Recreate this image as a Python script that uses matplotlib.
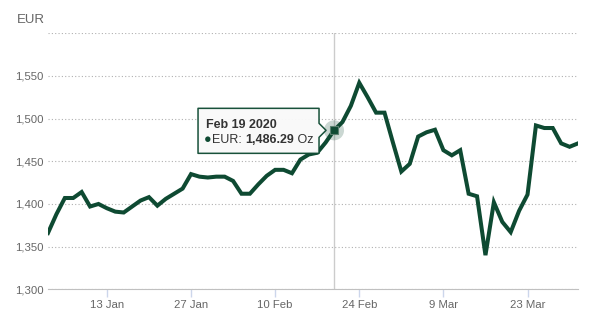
import matplotlib
matplotlib.use('Agg')
import matplotlib.pyplot as plt
import pandas as pd
from matplotlib.patches import Polygon, Circle
from matplotlib.transforms import IdentityTransform

plt.rcParams['font.family'] = ['Liberation Sans', 'DejaVu Sans']

# trading days, Jan 2 - Mar 31 2020 (ordinal axis, weekends skipped)
dates = pd.bdate_range('2020-01-02', '2020-03-31')
eur = [1366, 1388, 1407, 1407, 1414, 1397, 1400, 1395, 1391, 1390,
       1397, 1404, 1408, 1398, 1406, 1412, 1418, 1435, 1432, 1431,
       1432, 1432, 1427, 1412, 1412, 1423, 1433, 1440, 1440, 1436,
       1452, 1458, 1460, 1472, 1486.29, 1496, 1515, 1542, 1525, 1507,
       1507, 1472, 1438, 1447, 1479, 1484, 1487, 1463, 1457, 1463,
       1412, 1409, 1340, 1402, 1379, 1367, 1392, 1411, 1492, 1489,
       1489, 1471, 1467, 1471]
tick_dates = ['2020-01-13', '2020-01-27', '2020-02-10', '2020-02-24', '2020-03-09', '2020-03-23']
y_ticks = [1300, 1350, 1400, 1450, 1500, 1550, 1600]
hover_date = '2020-02-19'

green = '#0e4a32'
grey = '#666666'

fig = plt.figure(figsize=(5.95, 3.16), dpi=100)
ax = fig.add_axes([48 / 595, 1 - 289.3 / 316, 530 / 595, 256 / 316])

x = list(range(len(dates)))
ax.plot(x, eur, color=green, lw=2.9, solid_joinstyle='miter', zorder=3)

ax.set_xlim(0, len(dates) - 1)
ax.set_ylim(y_ticks[0], y_ticks[-1])

ax.set_yticks(y_ticks)
ax.set_yticklabels([f'{v:,}' for v in y_ticks[:-1]] + [''])
ax.yaxis.grid(True, linestyle=(0, (1, 2)), color='#b0b0b0', lw=0.8)
ax.set_axisbelow(True)

xt = [dates.get_loc(pd.Timestamp(d)) for d in tick_dates]
ax.set_xticks(xt)
ax.set_xticklabels([f"{pd.Timestamp(d).day} {pd.Timestamp(d).strftime('%b')}" for d in tick_dates])

for s in ['top', 'right', 'left']:
    ax.spines[s].set_visible(False)
ax.spines['bottom'].set_color('#c0c0c0')
ax.tick_params(axis='y', length=0, pad=3, labelsize=8.2, labelcolor=grey)
ax.tick_params(axis='x', length=6, width=1, color='#ccd6eb', pad=2, labelsize=8.2, labelcolor=grey)

fig.text(44.5 / 595, 1 - 20 / 316, 'EUR', ha='right', va='center', fontsize=9.5, color=grey)

# hover state
hi = dates.get_loc(pd.Timestamp(hover_date))
ax.axvline(hi, color='#cccccc', lw=1, zorder=2)

px, py = ax.transData.transform((hi, eur[hi]))
ident = IdentityTransform()
fig.patches.append(Circle((px, py), 10, transform=ident, facecolor=green, alpha=0.22, edgecolor='none'))
ax.plot([hi], [eur[hi]], marker='s', ms=5.5, color=green, mec='#6f8f80', mew=0.8, zorder=4, clip_on=False)

# callout box
r = px - 15
l = r - 121
t = py + 22
b = py - 23
tip = px - 8
box = [(l, b), (r, b), (r, py - 7), (tip, py), (r, py + 7), (r, t), (l, t)]
fig.patches.append(Polygon(box, closed=True, transform=ident, facecolor='#f9f9f9',
                           edgecolor=green, lw=1.1, joinstyle='round', alpha=0.96))

fs = 9
fig.text((l + 8) / 595, (py + 2) / 316, pd.Timestamp(hover_date).strftime('%b %d %Y'),
         fontsize=fs, fontweight='bold', color='#333333', va='baseline')
t1 = fig.text((l + 6) / 595, (py - 13) / 316, '\u25cf', fontsize=fs, color=green, va='baseline')
t2 = fig.text(0, 0, 'EUR: ', fontsize=fs, color='#333333', va='baseline')
t3 = fig.text(0, 0, f'{eur[hi]:,.2f}', fontsize=fs, fontweight='bold', color='#333333', va='baseline')
t4 = fig.text(0, 0, ' Oz', fontsize=fs, color='#333333', va='baseline')
fig.canvas.draw()
prev = t1
for tt in [t2, t3, t4]:
    bb = prev.get_window_extent()
    tt.set_position((bb.x1 / 595, (py - 13) / 316))
    fig.canvas.draw()
    prev = tt

fig.savefig('out.png', dpi=100)
